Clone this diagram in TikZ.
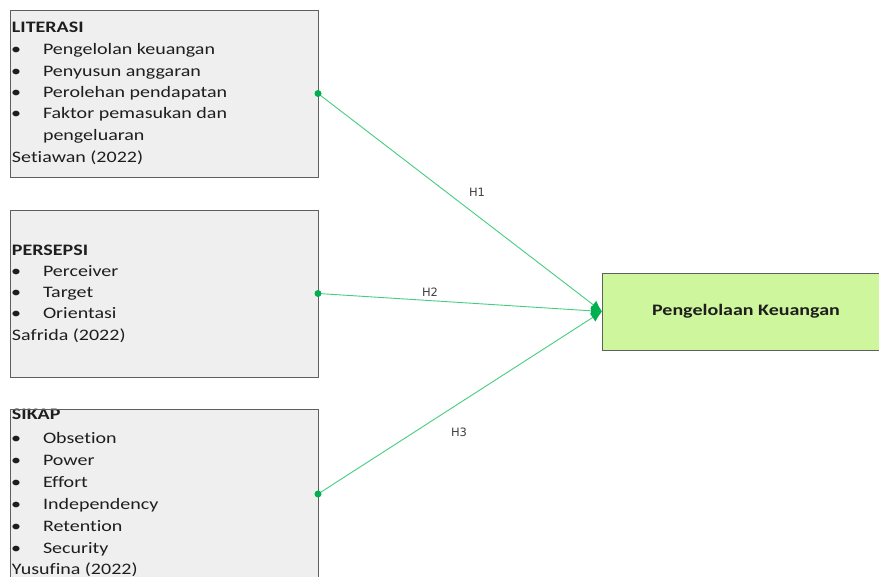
\documentclass[tikz,border=0pt]{standalone}
\usepackage{fontspec}
\setmainfont{Carlito}[FakeStretch=1.25, Ligatures={NoCommon}]
\newfontfamily\lblfont{DejaVu Sans}
\usetikzlibrary{arrows.meta}
\definecolor{boxgray}{RGB}{239,239,239}
\definecolor{boxline}{RGB}{95,95,95}
\definecolor{greenfill}{RGB}{206,246,156}
\definecolor{linkgreen}{RGB}{70,205,130}
\definecolor{dotgreen}{RGB}{0,176,80}
\definecolor{txtcol}{RGB}{30,30,30}
\begin{document}
\begin{tikzpicture}[x=1pt,y=-1pt,
  panel/.style={draw=boxline, fill=boxgray, line width=0.9pt, outer sep=0pt, inner sep=0pt},
  target/.style={draw=boxline, fill=greenfill, line width=0.9pt, outer sep=0pt, inner sep=0pt},
  txt/.style={anchor=base west, inner sep=0pt, outer sep=0pt, font=\fontsize{16}{19}\selectfont, text=txtcol},
  head/.style={txt, font=\fontsize{16}{19}\selectfont\bfseries},
  link/.style={draw=linkgreen, line width=0.9pt, -{Latex[length=11pt,width=10pt,color=dotgreen]}},
  dot/.style={circle, fill=dotgreen, inner sep=0pt, minimum size=7pt},
  hlab/.style={font=\lblfont\fontsize{11.5}{13}\selectfont, text=black!75, inner sep=0pt}
]
\useasboundingbox (0,0) rectangle (879,577);
\fill[white] (0,0) rectangle (879,577);

% boxes
\node[panel, minimum width=308pt, minimum height=167pt] (lit) at (164,93.5) {};
\node[panel, minimum width=308pt, minimum height=167pt] (per) at (164,293.5) {};
\node[panel, minimum width=308pt, minimum height=170pt] (sik) at (164,494) {};
\node[target, minimum width=283pt, minimum height=77pt] (pk) at (743.5,311.5) {};
\node[font=\fontsize{16}{20}\selectfont\bfseries, text=txtcol] (pkt) at (746,311) {Pengelolaan Keuangan};

% LITERASI
\node[head] (l0) at (12,33) {LITERASI};
\node[txt] (lb1) at (11,55) {•}; \node[txt] (l1) at (43,55) {Pengelolan keuangan};
\node[txt] (lb2) at (11,77) {•}; \node[txt] (l2) at (43,77) {Penyusun anggaran};
\node[txt] (lb3) at (11,98) {•}; \node[txt] (l3) at (43,98) {Perolehan pendapatan};
\node[txt] (lb4) at (11,119) {•}; \node[txt] (l4) at (43,119) {Faktor pemasukan dan};
\node[txt] (l5) at (43,141) {pengeluaran};
\node[txt] (l6) at (12,163) {Setiawan (2022)};

% PERSEPSI
\node[head] (p0) at (12,256) {PERSEPSI};
\node[txt] (pb1) at (11,277) {•}; \node[txt] (p1) at (43,277) {Perceiver};
\node[txt] (pb2) at (11,298) {•}; \node[txt] (p2) at (43,298) {Target};
\node[txt] (pb3) at (11,319) {•}; \node[txt] (p3) at (43,319) {Orientasi};
\node[txt] (p4) at (12,341) {Safrida (2022)};

% SIKAP
\node[head] (s0) at (12,420) {SIKAP};
\node[txt] (sb1) at (11,443) {•}; \node[txt] (s1) at (43,443) {Obsetion};
\node[txt] (sb2) at (11,465) {•}; \node[txt] (s2) at (43,465) {Power};
\node[txt] (sb3) at (11,487) {•}; \node[txt] (s3) at (43,487) {Effort};
\node[txt] (sb4) at (11,509) {•}; \node[txt] (s4) at (43,509) {Independency};
\node[txt] (sb5) at (11,531) {•}; \node[txt] (s5) at (43,531) {Retention};
\node[txt] (sb6) at (11,553) {•}; \node[txt] (s6) at (43,553) {Security};
\node[txt] (s7) at (12,574) {Yusufina (2022)};
\draw[boxline, line width=0.9pt] (sik.north west) -- (sik.north east);

% connectors
\draw[link] (lit.east) -- (pk.west);
\draw[link] (per.east) -- (pk.west);
\draw[link] (sik.east) -- (pk.west);
\node[dot] (d1) at (lit.east) {};
\node[dot] (d2) at (per.east) {};
\node[dot] (d3) at (sik.east) {};

% labels
\node[hlab] (h1) at (477,192) {H1};
\node[hlab] (h2) at (430,292) {H2};
\node[hlab] (h3) at (459,432) {H3};
\end{tikzpicture}
\end{document}
